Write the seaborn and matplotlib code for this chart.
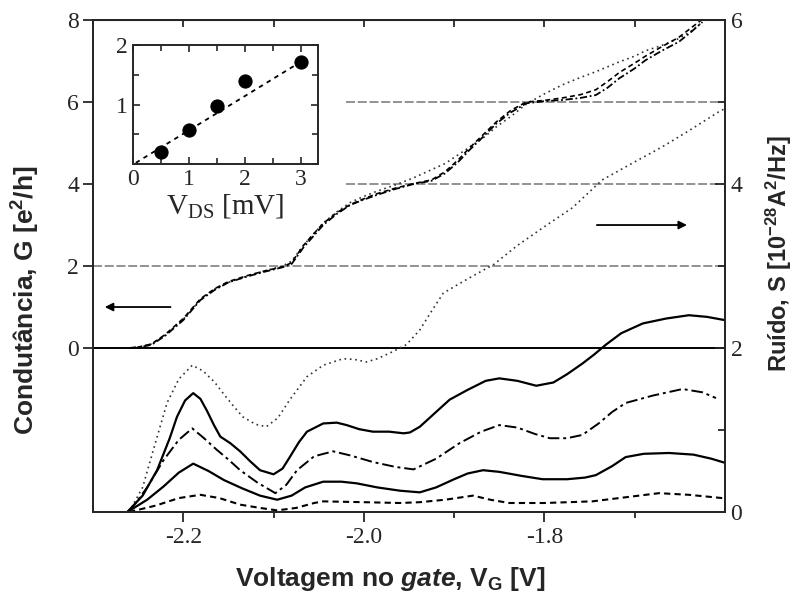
import numpy as np
import matplotlib
matplotlib.use("Agg")
import matplotlib.pyplot as plt
from matplotlib.ticker import MultipleLocator, FixedLocator
import seaborn as sns

# conductance traces G [e^2/h] vs gate voltage (left axis)
v_cond = [-2.26, -2.248, -2.235, -2.22, -2.20, -2.181, -2.165, -2.15, -2.13, -2.11,
          -2.09, -2.08, -2.067, -2.055, -2.045, -2.03, -2.015, -2.0, -1.986, -1.965,
          -1.945, -1.925, -1.91, -1.895, -1.883, -1.868, -1.853, -1.837, -1.82, -1.80,
          -1.78, -1.76, -1.743, -1.73, -1.717, -1.70, -1.688, -1.67, -1.651, -1.638,
          -1.625]
g_main = [0.0, 0.02, 0.08, 0.3, 0.68, 1.17, 1.42, 1.6, 1.74, 1.86,
          1.97, 2.05, 2.45, 2.75, 3.0, 3.27, 3.49, 3.62, 3.73, 3.88,
          4.0, 4.08, 4.26, 4.55, 4.83, 5.15, 5.48, 5.75, 5.97, 6.02,
          6.05, 6.1, 6.17, 6.35, 6.58, 6.82, 7.02, 7.25, 7.47, 7.7,
          7.95]
g_dash = [0.0, 0.03, 0.1, 0.33, 0.72, 1.2, 1.45, 1.62, 1.76, 1.88,
          1.98, 2.08, 2.5, 2.8, 3.04, 3.3, 3.5, 3.64, 3.76, 3.9,
          4.01, 4.1, 4.3, 4.6, 4.88, 5.2, 5.52, 5.8, 6.0, 6.04,
          6.1, 6.18, 6.3, 6.5, 6.72, 6.95, 7.12, 7.35, 7.58, 7.8,
          8.02]
g_dot = [0.0, 0.03, 0.1, 0.32, 0.7, 1.18, 1.44, 1.6, 1.75, 1.88,
         2.0, 2.12, 2.5, 2.8, 3.05, 3.32, 3.55, 3.7, 3.82, 3.98,
         4.15, 4.35, 4.5, 4.72, 4.9, 5.12, 5.4, 5.65, 5.95, 6.2,
         6.42, 6.6, 6.74, 6.86, 6.98, 7.12, 7.25, 7.38, 7.55, 7.72,
         7.95]

# noise traces S [1e-28 A^2/Hz] vs gate voltage (right axis)
v_s1 = [-2.26, -2.245, -2.232, -2.218, -2.205, -2.19, -2.178, -2.165, -2.156, -2.145,
        -2.134, -2.12, -2.108, -2.095, -2.082, -2.063, -2.045, -2.023, -2.01, -1.997,
        -1.985, -1.971, -1.953, -1.938, -1.925, -1.912, -1.895, -1.879, -1.856, -1.83,
        -1.80, -1.769, -1.736, -1.70, -1.67, -1.64, -1.607, -1.60]
s1 = [0.0, 0.3, 0.8, 1.33, 1.62, 1.79, 1.72, 1.58, 1.45, 1.3,
      1.16, 1.07, 1.04, 1.15, 1.37, 1.65, 1.79, 1.87, 1.86, 1.83,
      1.87, 1.94, 2.04, 2.22, 2.45, 2.67, 2.78, 2.88, 3.02, 3.25,
      3.48, 3.71, 4.05, 4.27, 4.45, 4.65, 4.88, 4.92]

v_s2 = [-2.262, -2.245, -2.229, -2.215, -2.207, -2.198, -2.189, -2.181, -2.174, -2.166,
        -2.159, -2.148, -2.137, -2.126, -2.115, -2.10, -2.09, -2.082, -2.072, -2.063,
        -2.045, -2.03, -2.019, -2.005, -1.99, -1.972, -1.956, -1.949, -1.938, -1.92,
        -1.905, -1.885, -1.865, -1.85, -1.83, -1.809, -1.79, -1.775, -1.758, -1.745,
        -1.732, -1.715, -1.691, -1.665, -1.64, -1.62, -1.60]
s2 = [0.0, 0.2, 0.51, 0.9, 1.16, 1.36, 1.45, 1.38, 1.24, 1.06,
      0.92, 0.84, 0.74, 0.62, 0.51, 0.46, 0.53, 0.67, 0.85, 0.98,
      1.08, 1.09, 1.06, 1.01, 0.98, 0.98, 0.96, 0.97, 1.04, 1.22,
      1.37, 1.49, 1.6, 1.63, 1.6, 1.54, 1.58, 1.68, 1.81, 1.92,
      2.04, 2.18, 2.30, 2.36, 2.40, 2.38, 2.34]

v_s3 = [-2.26, -2.24, -2.222, -2.205, -2.19, -2.177, -2.163, -2.15, -2.137, -2.118,
        -2.098, -2.086, -2.074, -2.055, -2.034, -2.015, -1.99, -1.965, -1.945, -1.92,
        -1.894, -1.87, -1.85, -1.83, -1.81, -1.794, -1.775, -1.758, -1.74, -1.725,
        -1.71, -1.68, -1.647, -1.625, -1.61]
s3 = [0.0, 0.3, 0.63, 0.88, 1.02, 0.9, 0.76, 0.64, 0.51, 0.36,
      0.23, 0.33, 0.51, 0.68, 0.74, 0.69, 0.61, 0.55, 0.52, 0.65,
      0.84, 0.98, 1.06, 1.03, 0.95, 0.90, 0.90, 0.94, 1.08, 1.22,
      1.33, 1.42, 1.50, 1.46, 1.39]

v_s4 = [-2.262, -2.24, -2.222, -2.205, -2.189, -2.172, -2.155, -2.135, -2.115, -2.096,
        -2.08, -2.065, -2.045, -2.025, -2.008, -1.985, -1.96, -1.938, -1.92, -1.90,
        -1.885, -1.868, -1.85, -1.825, -1.802, -1.775, -1.755, -1.743, -1.725, -1.71,
        -1.69, -1.662, -1.635, -1.615, -1.60]
s4 = [0.0, 0.15, 0.31, 0.48, 0.59, 0.5, 0.39, 0.29, 0.2, 0.15,
      0.2, 0.3, 0.37, 0.37, 0.35, 0.3, 0.26, 0.24, 0.3, 0.4,
      0.47, 0.51, 0.49, 0.44, 0.40, 0.40, 0.42, 0.45, 0.56, 0.67,
      0.71, 0.72, 0.70, 0.65, 0.60]

v_s5 = [-2.26, -2.23, -2.205, -2.181, -2.16, -2.137, -2.115, -2.096, -2.075, -2.055,
        -2.045, -2.0, -1.96, -1.938, -1.91, -1.879, -1.86, -1.839, -1.80, -1.747,
        -1.71, -1.673, -1.64, -1.603]
s5 = [0.0, 0.08, 0.17, 0.21, 0.17, 0.09, 0.05, 0.02, 0.05, 0.11,
      0.13, 0.12, 0.11, 0.12, 0.15, 0.20, 0.15, 0.11, 0.11, 0.13,
      0.18, 0.23, 0.21, 0.17]

# plateau guide lines (left axis units)
plateau_g = [2, 4, 6]
plateau_start = [-2.30, -2.02, -2.02]

# inset: noise slope vs V_DS
vds = [0.5, 1.0, 1.5, 2.0, 3.0]
slope = [0.21, 0.57, 0.97, 1.39, 1.72]
fit_x = [0.05, 3.05]
fit_y = [0.02, 1.75]

sns.set_style("ticks")
plt.rcParams['font.family'] = ['Liberation Serif', 'DejaVu Serif']
plt.rcParams['mathtext.fontset'] = 'custom'
plt.rcParams['mathtext.rm'] = 'Liberation Serif'
plt.rcParams['mathtext.bf'] = 'Liberation Sans:bold'
plt.rcParams['mathtext.it'] = 'Liberation Sans:italic:bold'

fig = plt.figure(figsize=(7.96, 5.96), dpi=100)
ax = fig.add_axes([0.1168, 0.1409, 0.794, 0.8255])
ax2 = ax.twinx()

xmin, xmax = -2.30, -1.60
grey = '#8a8a8a'
for g, x0 in zip(plateau_g, plateau_start):
    ax.hlines(g, x0, xmax, colors=grey, linestyles=(0, (5, 1.5)), lw=1.3)
ax.axhline(0, color='black', lw=1.4)

sns.lineplot(x=v_cond, y=g_dot, ax=ax, color='#333333', lw=1.2, linestyle=(0, (1, 2.2)),
             estimator=None, sort=False)
sns.lineplot(x=v_cond, y=g_dash, ax=ax, color='black', lw=1.2, linestyle=(0, (3, 2)),
             estimator=None, sort=False)
sns.lineplot(x=v_cond, y=g_main, ax=ax, color='black', lw=1.3, linestyle=(0, (4, 1.5, 1, 1.5)),
             estimator=None, sort=False)

sns.lineplot(x=v_s1, y=s1, ax=ax2, color='#333333', lw=1.2, linestyle=(0, (1, 2.2)),
             estimator=None, sort=False)
sns.lineplot(x=v_s2, y=s2, ax=ax2, color='black', lw=1.6, linestyle='-',
             estimator=None, sort=False)
sns.lineplot(x=v_s3, y=s3, ax=ax2, color='black', lw=1.4, linestyle=(0, (6, 2, 1.5, 2)),
             estimator=None, sort=False)
sns.lineplot(x=v_s4, y=s4, ax=ax2, color='black', lw=1.6, linestyle='-',
             estimator=None, sort=False)
sns.lineplot(x=v_s5, y=s5, ax=ax2, color='black', lw=1.5, linestyle=(0, (3, 2)),
             estimator=None, sort=False)

ax.set_xlim(xmin, xmax)
ax.set_ylim(-4, 8)
ax2.set_ylim(0, 6)

ax.xaxis.set_major_locator(FixedLocator([-2.2, -2.0, -1.8]))
ax.xaxis.set_minor_locator(FixedLocator([-2.1, -1.9, -1.7]))
ax.set_xticklabels(['-2.2', '-2.0', '-1.8'])
ax.set_yticks([0, 2, 4, 6, 8])
ax.tick_params(axis='x', which='major', direction='out', length=7, width=1.3, labelsize=17, pad=4)
ax.tick_params(axis='x', which='minor', direction='out', length=4, width=1.3)
ax.tick_params(axis='y', direction='out', length=7, width=1.3, labelsize=17, pad=3)

sec = ax.secondary_xaxis('top')
sec.xaxis.set_major_locator(MultipleLocator(0.1))
sec.tick_params(direction='in', length=5, width=1.3, labeltop=False)

ax2.set_yticks([0, 2, 4, 6])
ax2.yaxis.set_minor_locator(FixedLocator([1, 3, 5]))
ax2.tick_params(axis='y', which='major', direction='in', length=7, width=1.3, labelsize=17, pad=4)
ax2.tick_params(axis='y', which='minor', direction='in', length=5, width=1.3)

for a in (ax, ax2):
    for sp in a.spines.values():
        sp.set_linewidth(1.4)
        sp.set_visible(True)

ax.set_xlabel('Voltagem no $\\mathit{gate}$, V$_{\\mathbf{G}}$ [V]', family='Liberation Sans',
              fontweight='bold', fontsize=19)
ax.xaxis.set_label_coords(0.47, -0.108)
ax.set_ylabel('Condutância, G [e$^{\\mathbf{2}}$/h]', family='Liberation Sans',
              fontweight='bold', fontsize=19)
ax.yaxis.set_label_coords(-0.08, 0.43)
ax2.set_ylabel('Ruído, S [10$^{\\mathbf{-28}}$A$^{\\mathbf{2}}$/Hz]', family='Liberation Sans',
               fontweight='bold', fontsize=17)
ax2.yaxis.set_label_coords(1.062, 0.524)

# direction arrows
ax.annotate('', xy=(-2.29, 1.0), xytext=(-2.211, 1.0),
            arrowprops=dict(arrowstyle='-|>', color='black', lw=1.3, mutation_scale=12))
ax.annotate('', xy=(-1.639, 3.0), xytext=(-1.745, 3.0),
            arrowprops=dict(arrowstyle='-|>', color='black', lw=1.3, mutation_scale=12))

# inset
axin = fig.add_axes([0.1671, 0.7248, 0.2324, 0.1997])
sns.lineplot(x=fit_x, y=fit_y, ax=axin, color='black', lw=1.3, linestyle=(0, (2.5, 2.5)),
             estimator=None)
sns.scatterplot(x=vds, y=slope, ax=axin, color='black', s=90, edgecolor='black', zorder=3)
axin.set_xlim(0, 3.3)
axin.set_ylim(0, 2)
axin.set_xticks([0, 1, 2, 3])
axin.xaxis.set_minor_locator(MultipleLocator(0.5))
axin.set_yticks([1, 2])
axin.yaxis.set_minor_locator(MultipleLocator(0.5))
axin.tick_params(which='both', direction='in', top=True, right=True, width=1.2, labelsize=17)
axin.tick_params(which='major', length=5)
axin.tick_params(which='minor', length=4)
for sp in axin.spines.values():
    sp.set_linewidth(1.4)
axin.set_xlabel('V$_{\\mathrm{DS}}$ [mV]', fontsize=21, labelpad=2)

fig.savefig('out.png', dpi=100)
